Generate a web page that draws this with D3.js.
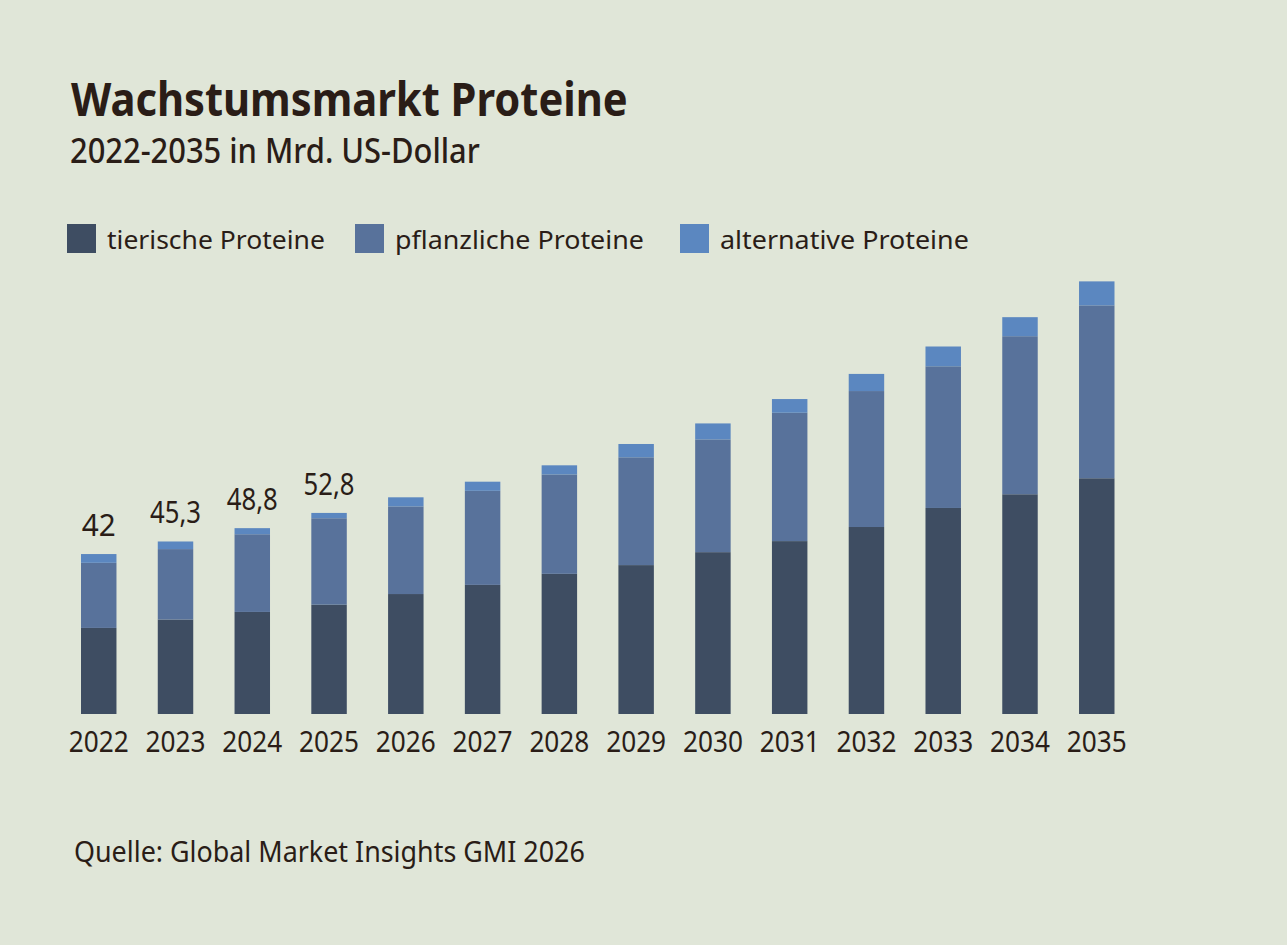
<!DOCTYPE html>
<html>
<head>
<meta charset="utf-8">
<script src="https://cdn.jsdelivr.net/npm/d3@7"></script>
<style>
  html, body { margin: 0; padding: 0; background: #e0e6d8; }
  svg { display: block; }
  text { font-family: "Noto Sans", "Open Sans", sans-serif; fill: #2a1d17; }
</style>
</head>
<body>
<svg id="chart" width="1287" height="945"></svg>
<script>
// ---- data ----
const years = ["2022","2023","2024","2025","2026","2027","2028","2029","2030","2031","2032","2033","2034","2035"];
const tierische     = [22.6, 24.8, 26.8, 28.7, 31.5, 33.9, 36.8, 39.1, 42.5, 45.4, 49.1, 54.1, 57.7, 61.9];
const pflanzliche   = [17.1, 18.5, 20.4, 22.7, 23.0, 24.7, 26.1, 28.3, 29.6, 33.7, 35.7, 37.2, 41.5, 45.4];
const alternative   = [ 2.3,  2.0,  1.6,  1.4,  2.4,  2.4,  2.4,  3.5,  4.2,  3.6,  4.5,  5.2,  5.0,  6.3];
const totalLabels   = ["42", "45,3", "48,8", "52,8"];
const seriesNames   = ["tierische Proteine", "pflanzliche Proteine", "alternative Proteine"];
const seriesColors  = ["#3e4d62", "#58729b", "#5b87c0"];
const titleText    = "Wachstumsmarkt Proteine";
const subtitleText = "2022-2035 in Mrd. US-Dollar";
const sourceText   = "Quelle: Global Market Insights GMI 2026";

(function () {
// ---- build table ----
const keys = ["tierische", "pflanzliche", "alternative"];
const rows = years.map((yr, i) => ({ year: yr, tierische: tierische[i], pflanzliche: pflanzliche[i], alternative: alternative[i] }));
const stacked = d3.stack().keys(keys)(rows);

const svg = d3.select("#chart");
svg.append("rect").attr("width", 1287).attr("height", 945).attr("fill", "#e0e6d8");

// helper: place text and squeeze horizontally to a target width
function placeText(str, px, py, size, weight, anchor, targetW) {
  const t = svg.append("text")
    .attr("x", 0).attr("y", 0)
    .attr("font-size", size)
    .attr("font-weight", weight)
    .attr("text-anchor", anchor)
    .text(str);
  let s = 1;
  const w = t.node().getComputedTextLength();
  if (targetW && w > 0) s = targetW / w;
  t.attr("transform", `translate(${px},${py}) scale(${s},1)`);
  return { node: t, width: w * s };
}

// ---- scales ----
const x = d3.scaleBand().domain(years).range([81, 1114.5]).paddingInner(0.538).paddingOuter(0);
const y = d3.scaleLinear().domain([0, 120]).range([714, 257]);

// ---- titles ----
placeText(titleText, 71, 116, 46, 700, "start", 557);
placeText(subtitleText, 70, 163, 34, 500, "start", 410);

// ---- legend ----
let lx = 67;
seriesNames.forEach((name, i) => {
  svg.append("rect").attr("x", lx).attr("y", 224).attr("width", 29).attr("height", 29).attr("fill", seriesColors[i]);
  const r = placeText(name, lx + 40, 249, 26, 400, "start", [218, 249, 249][i]);
  lx = lx + 40 + r.width + [30, 36, 0][i];
});

// ---- bars ----
svg.append("g").selectAll("g")
  .data(stacked)
  .join("g")
  .attr("fill", (d, i) => seriesColors[i])
  .selectAll("rect")
  .data(d => d)
  .join("rect")
  .attr("x", d => x(d.data.year))
  .attr("width", x.bandwidth())
  .attr("y", d => y(d[1]))
  .attr("height", d => y(d[0]) - y(d[1]));

// ---- total labels (first four years) ----
const topLayer = stacked[stacked.length - 1];
totalLabels.forEach((lab, i) => {
  placeText(lab, x(years[i]) + x.bandwidth() / 2, y(topLayer[i][1]) - 18, 30, 400, "middle", lab.length === 2 ? 34 : 51);
});

// ---- x axis labels ----
const axis = d3.axisBottom(x).tickSize(0).tickPadding(0);
const ax = svg.append("g").attr("transform", "translate(0,714)").call(axis);
ax.select(".domain").remove();
ax.selectAll(".tick text").remove();
years.forEach(yr => {
  placeText(yr, x(yr) + x.bandwidth() / 2, 752, 29, 400, "middle", 60);
});

// ---- source ----
placeText(sourceText, 74, 862, 29, 400, "start", 511);
})();
</script>
</body>
</html>
